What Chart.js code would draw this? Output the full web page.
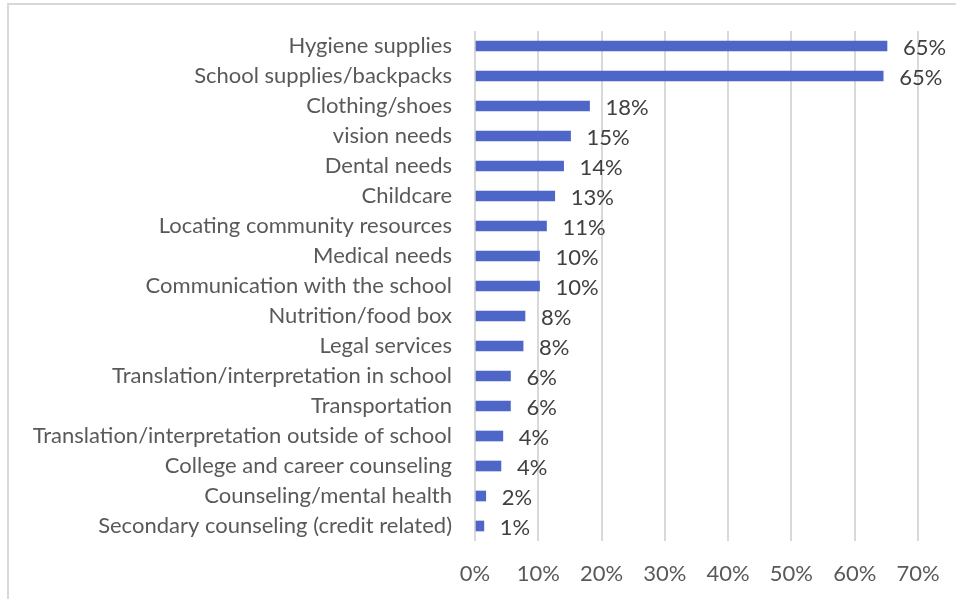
<!DOCTYPE html>
<html>
<head>
<meta charset="utf-8">
<script src="https://cdn.jsdelivr.net/npm/chart.js@4.4.1/dist/chart.umd.min.js"></script>
<style>
  html, body { margin: 0; padding: 0; background: #fff; overflow: hidden; }
  #wrap { position: relative; width: 956px; height: 599px; }
  #frame { position: absolute; left: 7px; top: 3px; width: 1000px; height: 700px;
           border: 2px solid #d9d9d9; box-sizing: border-box; }
  canvas { position: absolute; left: 0; top: 0; }
</style>
</head>
<body>
<div id="wrap">
  <div id="frame"></div>
  <canvas id="chart" width="956" height="599"></canvas>
</div>
<script>
// Support categories, top to bottom
const categories = [
  "Hygiene supplies",
  "School supplies/backpacks",
  "Clothing/shoes",
  "vision needs",
  "Dental needs",
  "Childcare",
  "Locating community resources",
  "Medical needs",
  "Communication with the school",
  "Nutrition/food box",
  "Legal services",
  "Translation/interpretation in school",
  "Transportation",
  "Translation/interpretation outside of school",
  "College and career counseling",
  "Counseling/mental health",
  "Secondary counseling (credit related)"
];

// Share of respondents (%)
const shares = [65.1, 64.5, 18.1, 15.1, 14.0, 12.6, 11.3, 10.2, 10.2, 7.9, 7.6, 5.6, 5.6, 4.4, 4.1, 1.7, 1.4];

// Axis tick values (%)
const axisTicks = [0, 10, 20, 30, 40, 50, 60, 70];

const FONT = "Lato, 'Open Sans', sans-serif";
const FONT_SIZE = 22;

// Percentage label at the end of each bar
const barLabels = {
  id: "barLabels",
  afterDatasetsDraw(chart) {
    const ctx = chart.ctx;
    const meta = chart.getDatasetMeta(0);
    ctx.save();
    ctx.font = FONT_SIZE + "px " + FONT;
    ctx.fillStyle = "#404040";
    ctx.textAlign = "left";
    ctx.textBaseline = "middle";
    meta.data.forEach((bar, i) => {
      ctx.fillText(Math.round(shares[i]) + "%", bar.x + 16, bar.y + 2);
    });
    ctx.restore();
  }
};

new Chart(document.getElementById("chart"), {
  type: "bar",
  data: {
    labels: categories,
    datasets: [{
      data: shares,
      backgroundColor: "#4e66c8",
      borderWidth: 0,
      barThickness: 10
    }]
  },
  options: {
    indexAxis: "y",
    responsive: false,
    animation: false,
    layout: { padding: { top: 31, right: 38, bottom: 0, left: 0 } },
    plugins: {
      legend: { display: false },
      tooltip: { enabled: false }
    },
    scales: {
      x: {
        min: 0,
        max: 70,
        afterBuildTicks(scale) { scale.ticks = axisTicks.map(v => ({ value: v })); },
        afterFit(scale) {
          scale.height = 58;
          scale.paddingLeft = 0;
          scale.paddingRight = 0;
        },
        grid: { color: "#d9d9d9", lineWidth: 2, drawTicks: false },
        border: { display: false },
        ticks: {
          padding: 20,
          color: "#595959",
          font: { family: FONT, size: FONT_SIZE },
          callback: v => v + "%"
        }
      },
      y: {
        afterFit(scale) {
          scale.width = 475;
          scale.paddingTop = 0;
          scale.paddingBottom = 0;
        },
        grid: { display: false, drawTicks: false },
        border: { display: false },
        ticks: {
          padding: 23,
          autoSkip: false,
          color: "#595959",
          font: { family: FONT, size: FONT_SIZE }
        }
      }
    }
  },
  plugins: [barLabels]
});
</script>
</body>
</html>
